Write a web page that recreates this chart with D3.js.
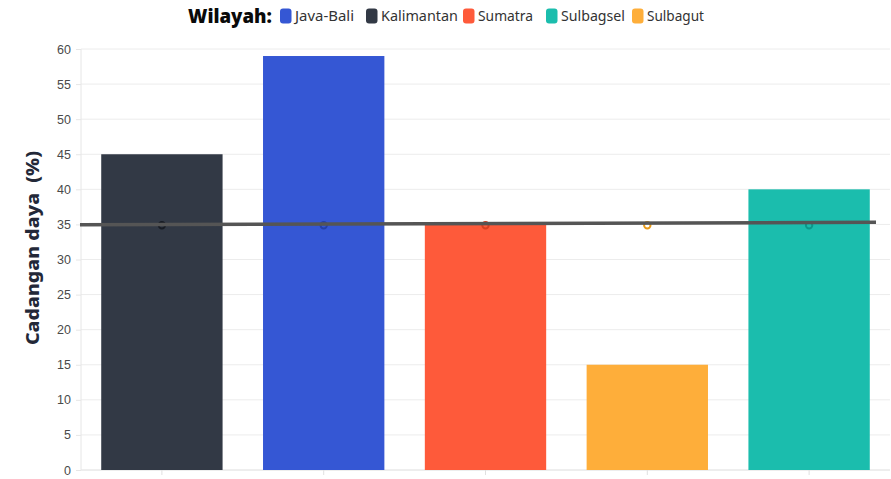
<!DOCTYPE html>
<html>
<head>
<meta charset="utf-8">
<script src="https://cdn.jsdelivr.net/npm/d3@7"></script>
<style>
  html, body { margin: 0; padding: 0; background: #fff; }
  svg { display: block; font-family: "Noto Sans", "Open Sans", sans-serif; }
</style>
</head>
<body>
<svg id="chart" width="891" height="479"></svg>
<script>
// Reserve margin by region (%)
const categories = ["Kalimantan", "Java-Bali", "Sumatra", "Sulbagut", "Sulbagsel"];
const reserveValues = [45, 59, 35, 15, 40];
const targetValues = [35, 35, 35, 35, 35];
const referenceLine = [34.96, 35.3];
const legendOrder = ["Java-Bali", "Kalimantan", "Sumatra", "Sulbagsel", "Sulbagut"];
const yTicks = [0, 5, 10, 15, 20, 25, 30, 35, 40, 45, 50, 55, 60];
const colors = {
  "Java-Bali": "#3557d4",
  "Kalimantan": "#323945",
  "Sumatra": "#fe5a3a",
  "Sulbagsel": "#1bbdad",
  "Sulbagut": "#feae3a"
};
const markerStroke = {
  "Java-Bali": "#2440a8",
  "Kalimantan": "#181c24",
  "Sumatra": "#d84022",
  "Sulbagsel": "#0c978a",
  "Sulbagut": "#e89a18"
};

const svg = d3.select("#chart");
const margin = { left: 81, right: 890, top: 49, bottom: 470 };

const x = d3.scaleBand().domain(categories).range([margin.left, margin.right]).paddingInner(0.25).paddingOuter(0.125);
const y = d3.scaleLinear().domain([0, 60]).range([margin.bottom, margin.top]);

// horizontal grid
svg.append("g").selectAll("line").data(yTicks).join("line")
  .attr("x1", margin.left).attr("x2", margin.right)
  .attr("y1", d => y(d)).attr("y2", d => y(d))
  .attr("stroke", "#ececec").attr("stroke-width", 1);

// y axis line
svg.append("line")
  .attr("x1", margin.left).attr("x2", margin.left)
  .attr("y1", margin.top).attr("y2", margin.bottom)
  .attr("stroke", "#e6e6e6");

// y axis
const yAxis = svg.append("g").attr("transform", `translate(${margin.left},0)`)
  .call(d3.axisLeft(y).tickValues(yTicks).tickSize(5).tickPadding(5));
yAxis.select(".domain").remove();
yAxis.selectAll(".tick line").attr("stroke", "#e6e6e6");
yAxis.selectAll(".tick text").attr("fill", "#4a4a4a").attr("font-size", 12.5);

// x axis ticks (no labels)
const xAxis = svg.append("g").attr("transform", `translate(0,${margin.bottom})`)
  .call(d3.axisBottom(x).tickSize(5).tickFormat(""));
xAxis.select(".domain").attr("stroke", "#e6e6e6").attr("d", `M${margin.left},0H${margin.right}`);
xAxis.selectAll(".tick line").attr("stroke", "#e0e0e0");

// bars
svg.append("g").selectAll("rect").data(categories).join("rect")
  .attr("x", d => x(d))
  .attr("width", x.bandwidth())
  .attr("y", (d, i) => y(reserveValues[i]))
  .attr("height", (d, i) => y(0) - y(reserveValues[i]))
  .attr("fill", d => colors[d]);

// target markers
svg.append("g").selectAll("circle").data(categories).join("circle")
  .attr("cx", d => x(d) + x.bandwidth() / 2)
  .attr("cy", (d, i) => y(targetValues[i]) + 0.8)
  .attr("r", 3.2)
  .attr("fill", "none")
  .attr("stroke", d => markerStroke[d])
  .attr("stroke-width", 2);

// reference line
svg.append("line")
  .attr("x1", 80).attr("x2", 876)
  .attr("y1", y(referenceLine[0])).attr("y2", y(referenceLine[1]))
  .attr("stroke", "#555555").attr("stroke-width", 3.5);

// y axis title
svg.append("text")
  .attr("transform", "translate(39,248) rotate(-90)")
  .attr("text-anchor", "middle")
  .attr("font-size", 17.5).attr("font-weight", 800)
  .attr("fill", "#232838")
  .attr("textLength", 194).attr("lengthAdjust", "spacingAndGlyphs")
  .attr("xml:space", "preserve")
  .text("Cadangan daya  (%)");

// legend
const legend = svg.append("g").attr("transform", "translate(0,16)");
legend.append("text")
  .attr("x", 188).attr("y", 7)
  .attr("font-size", 19).attr("font-weight", 900).attr("fill", "#0a0a0a")
  .attr("textLength", 84).attr("lengthAdjust", "spacingAndGlyphs")
  .text("Wilayah:");
const legendX = [280, 366, 463, 546, 632];
const legendTextW = [59, 77, 55, 64, 57];
legendOrder.forEach((name, i) => {
  const g = legend.append("g").attr("transform", `translate(${legendX[i]},0)`);
  g.append("rect").attr("x", 0).attr("y", -7.5).attr("width", 11.5).attr("height", 15)
    .attr("rx", 3).attr("fill", colors[name]);
  g.append("text").attr("x", 15).attr("y", 5)
    .attr("font-size", 14.5).attr("fill", "#333")
    .attr("textLength", legendTextW[i]).attr("lengthAdjust", "spacingAndGlyphs")
    .text(name);
});
</script>
</body>
</html>
